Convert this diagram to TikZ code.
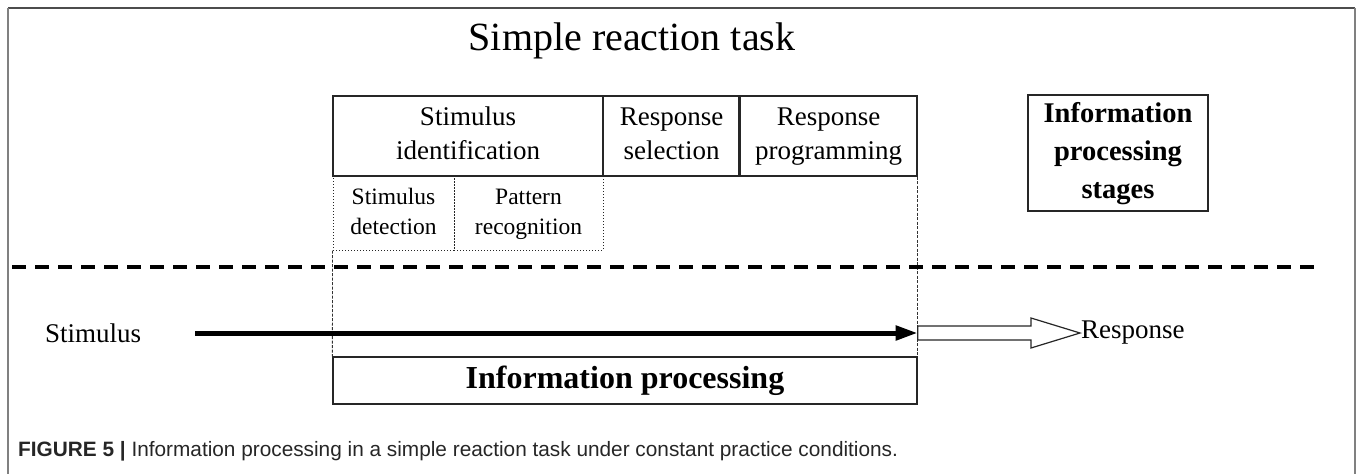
\documentclass[tikz,border=0pt]{standalone}
\usepackage{fontspec}
\setmainfont{Liberation Serif}
\newfontfamily\capfont{Liberation Sans}
\usetikzlibrary{arrows.meta,calc}
\begin{document}
\begin{tikzpicture}[x=1pt,y=-1pt,
  stagebox/.style={draw=black!85, line width=1.3pt, inner sep=0pt, align=center,
     font=\fontsize{27}{34}\selectfont},
  subbox/.style={draw=black!85, line width=1pt, dotted, inner sep=0pt, align=center,
     font=\fontsize{23.5}{30}\selectfont},
  guide/.style={draw=black!80, line width=0.8pt, dash pattern=on 3pt off 1.5pt},
  plain/.style={font=\fontsize{27}{30}\selectfont, inner sep=0pt}
]
\useasboundingbox (0,0) rectangle (1360,474);
% frame
\draw[black!70, line width=1.5pt] (8,8) -- (1355,8);
\draw[black!50, line width=1.5pt] (8,8) -- (8,474);
\draw[black!50, line width=1.5pt] (1355,8) -- (1355,474);

\node[font=\fontsize{40}{46}\selectfont, inner sep=0pt] (title) at (632,41) {Simple reaction task};

\node[stagebox, minimum width=270pt, minimum height=80pt] (sid) at (468,136) {\strut Stimulus\\\strut identification};
\node[stagebox, minimum width=137pt, minimum height=80pt] (rsel) at (671.5,136) {\strut Response\\\strut selection};
\node[stagebox, minimum width=177pt, minimum height=80pt] (rprog) at (828.5,136) {\strut Response\\\strut programming};
\draw[black!85, line width=2.8pt] (rprog.north west) -- (rprog.south west);

\node[subbox, minimum width=121pt, minimum height=74pt] (sdet) at (393.5,213) {\strut Stimulus\\\strut detection};
\node[subbox, minimum width=149pt, minimum height=74pt] (prec) at (528.5,213) {\strut Pattern\\\strut recognition};

\node[draw=black!85, line width=1.3pt, inner sep=0pt, align=center,
  minimum width=180pt, minimum height=116pt,
  font=\fontsize{28.5}{38}\selectfont\bfseries] (ips) at (1118,153) {\strut Information\\\strut processing\\\strut stages};

\node[draw=black!85, line width=1.3pt, inner sep=0pt, minimum width=584pt, minimum height=47pt,
  font=\fontsize{32}{34}\selectfont\bfseries] (ip) at (625,380.5) {Information processing};

% guides
\draw[guide] (sdet.south west) -- (ip.north west);
\draw[guide] (rprog.south east) -- (ip.north east);

% dashed separator
\coordinate (dl) at (12,267);
\coordinate (dr) at (1323,267);
\draw[black, line width=4pt, dash pattern=on 14pt off 9pt] (dl) -- (dr);

% stimulus / response
\node[plain, anchor=west] (stim) at (45,333) {Stimulus};
\node[plain, anchor=west] (resp) at (1081,333) {Response};
\coordinate (as) at (195,333);
\coordinate (hs) at (ip.east |- as);
\draw[black, line width=5pt, -{Triangle[length=22pt,width=14pt]}] (as) -- (hs);

% hollow arrow
\draw[black!85, line width=1.2pt, fill=white]
  ($(hs)+(0,-7)$) -- ($(resp.west)+(-50,-7)$) -- ($(resp.west)+(-50,-15)$) -- ($(resp.west)+(-1,0)$)
  -- ($(resp.west)+(-50,15)$) -- ($(resp.west)+(-50,7)$) -- ($(hs)+(0,7)$) -- cycle;

% caption
\node[anchor=west, inner sep=0pt, font=\capfont\fontsize{20.8}{24}\selectfont, text=black!85] (cap) at (18,451)
  {\textbf{FIGURE 5 |} Information processing in a simple reaction task under constant practice conditions.};
\end{tikzpicture}
\end{document}
